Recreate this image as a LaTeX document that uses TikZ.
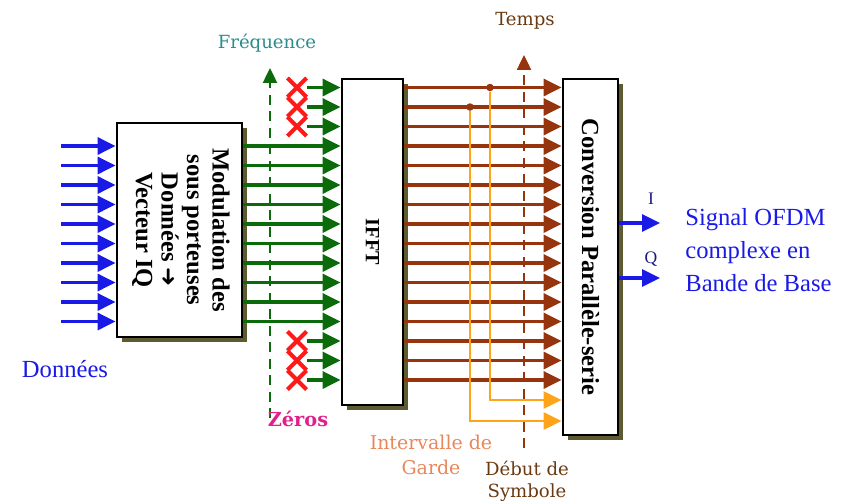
\documentclass[tikz,border=0pt]{standalone}
\usepackage{fontspec}
\setmainfont{Liberation Serif}
\newfontfamily\axisfont{DejaVu Serif}
\newfontfamily\arrowfont{DejaVu Sans}
\usepackage{graphicx}
\usepackage{tikz}
\usetikzlibrary{positioning,arrows.meta,shapes.misc,shadows}
\definecolor{DataBlue}{HTML}{1A1AE6}
\definecolor{SubGreen}{HTML}{0B6B0B}
\definecolor{TimeBrown}{HTML}{96340E}
\definecolor{GuardOrange}{HTML}{FFA319}
\definecolor{ZeroRed}{HTML}{FF1A1A}
\definecolor{ZeroPink}{HTML}{E0218A}
\definecolor{FreqTeal}{HTML}{2A8C8C}
\definecolor{GuardText}{HTML}{E8875A}
\definecolor{LabelBrown}{HTML}{6B3A10}
\definecolor{ShadowOlive}{HTML}{5E5B30}
\definecolor{IQNavy}{HTML}{1A1A80}

\begin{document}
\begin{tikzpicture}[x=0.02cm, y=-0.02cm, every node/.style={inner sep=0pt},
  blk/.style={draw,line width=1.6pt,fill=white,
    drop shadow={shadow xshift=0.1cm,shadow yshift=-0.1cm,fill=ShadowOlive,opacity=1}},
  feed/.style={-{Triangle[length=0.36cm,width=0.34cm]},line width=1.8pt},
  guard/.style={-{Triangle[length=0.36cm,width=0.34cm]},line width=1.3pt,GuardOrange},
  axis/.style={-{Triangle[length=0.3cm,width=0.28cm]},line width=1.4pt,dash pattern=on 0.2cm off 0.13cm},
  zero/.style={cross out,draw=ZeroRed,line width=2.3pt,minimum size=0.3cm},
  junc/.style={circle,fill=TimeBrown,minimum size=0.15cm},
  small/.style={font=\axisfont\fontsize{10.3}{12.5}\selectfont},
  boxtext/.style={font=\fontsize{14}{14.5}\selectfont\bfseries}]
\useasboundingbox (0,0) rectangle (843,504);

% row heights shared by all the parallel lines
\foreach \i in {1,...,16} \coordinate (r\i) at (0,{68+19.5*\i});

% blocks
\node[blk,boxtext,minimum width=2.5cm,minimum height=4.28cm] (mod) at (179.5,230)
  {\rotatebox{-90}{\begin{tabular}{@{}c@{}}Modulation des\\sous porteuses\\Données {\arrowfont\fontsize{13}{13}\selectfont ➜}\\Vecteur IQ\end{tabular}}};
\node[blk,font=\fontsize{11.5}{12}\selectfont\bfseries,minimum width=1.22cm,minimum height=6.52cm] (ifft) at (372.5,242)
  {\rotatebox{-90}{IFFT}};
\node[blk,boxtext,minimum width=1.1cm,minimum height=7.12cm] (conv) at (590.5,257)
  {\rotatebox{-90}{Conversion Parallèle-serie}};

% data in and sub-carriers
\foreach \i in {4,...,13} {
  \path (r\i) ++(61,0) coordinate (d\i);
  \draw[feed,DataBlue] (d\i) -- (mod.west |- r\i);
  \draw[feed,SubGreen] (mod.east |- r\i) -- (ifft.west |- r\i);
}
\foreach \i in {1,2,3,14,15,16} {
  \path (r\i) ++(297,0) node[zero] (z\i) {};
  \draw[feed,SubGreen] (z\i.east) -- (ifft.west |- r\i);
}
\node[DataBlue,font=\fontsize{14}{16}\selectfont] (don) at (65,369) {Données};

% frequency axis
\coordinate (f0) at (270,418);
\coordinate (f1) at (270,68);
\draw[axis,SubGreen] (f0) -- (f1);
\node[small,FreqTeal] (freq) at (267,43) {Fréquence};
\node[ZeroPink,font=\axisfont\fontsize{11}{13}\selectfont\bfseries] (zer) at (298,419) {Zéros};

% time samples
\foreach \i in {1,...,16}
  \draw[feed,TimeBrown] (ifft.east |- r\i) -- (conv.west |- r\i);
\coordinate (t0) at (524,448);
\coordinate (t1) at (524,55);
\draw[axis,TimeBrown] (t0) -- (t1);
\node[small,LabelBrown] (temps) at (525,21) {Temps};

% guard interval
\coordinate (o1) at (0,400);
\coordinate (o2) at (0,421);
\node[junc] (g1) at (490,87.5) {};
\node[junc] (g2) at (470,107) {};
\draw[guard] (g1) |- (conv.west |- o1);
\draw[guard] (g2) |- (conv.west |- o2);
\node[small,GuardText,align=center,font=\axisfont\fontsize{10.8}{14}\selectfont] (gard) at (431,455) {Intervalle de\\Garde};
\node[small,LabelBrown,align=center] (debut) at (527,481) {Début de\\Symbole};

% serial output
\coordinate (iout) at (660,223);
\coordinate (qout) at (660,278);
\draw[feed,DataBlue] (conv.east |- iout) -- (iout);
\draw[feed,DataBlue] (conv.east |- qout) -- (qout);
\node[IQNavy,font=\fontsize{10}{12}\selectfont] (ilab) at (651,199) {I};
\node[IQNavy,font=\fontsize{10}{12}\selectfont] (qlab) at (651,259) {Q};
\node[anchor=west,align=left,DataBlue,font=\fontsize{14}{18.7}\selectfont] (sig) at (685,250)
  {Signal OFDM\\complexe en\\Bande de Base};
\end{tikzpicture}
\end{document}
